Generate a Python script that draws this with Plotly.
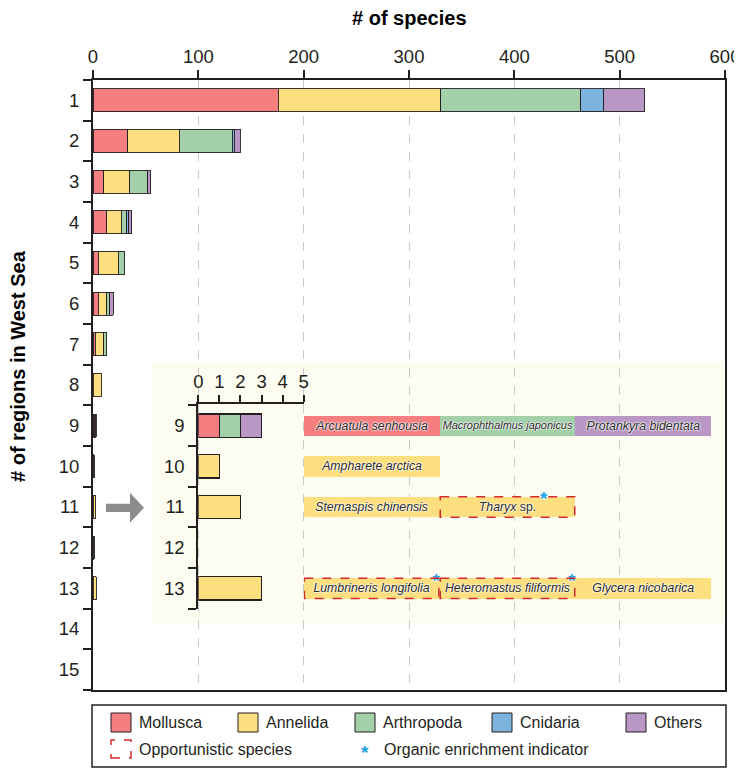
import plotly.graph_objects as go

# ---------------- data ----------------
regions = list(range(1, 16))
mollusca   = [176, 33, 10, 13, 5, 5, 2, 0, 1, 0, 0, 0, 0, 0, 0]
annelida   = [154, 49, 25, 14, 19, 8, 8, 8, 0, 1, 2, 1, 3, 0, 0]
arthropoda = [133, 50, 17, 5, 6, 3, 3, 0, 1, 0, 0, 0, 0, 0, 0]
cnidaria   = [22, 2, 0, 2, 0, 0, 0, 0, 0, 0, 0, 0, 0, 0, 0]
others     = [39, 6, 3, 3, 0, 3, 0, 0, 1, 0, 0, 0, 0, 0, 0]

taxa = ["Mollusca", "Annelida", "Arthropoda", "Cnidaria", "Others"]
taxon_colors = ["#F47E80", "#FDDF80", "#A3CFA9", "#7DB4DE", "#B897C5"]

x_ticks = [0, 100, 200, 300, 400, 500, 600]
inset_regions = [9, 10, 11, 12, 13]
inset_ticks = [0, 1, 2, 3, 4, 5]

species_names = ["Arcuatula senhousia", "Macrophthalmus japonicus", "Protankyra bidentata",
                 "Ampharete arctica",
                 "Sternaspis chinensis", "Tharyx sp.",
                 "Lumbrineris longifolia", "Heteromastus filiformis", "Glycera nicobarica"]
species_region = [9, 9, 9, 10, 11, 11, 13, 13, 13]
species_taxon = ["Mollusca", "Arthropoda", "Others", "Annelida",
                 "Annelida", "Annelida", "Annelida", "Annelida", "Annelida"]
species_opportunistic = [False, False, False, False, False, True, True, True, False]
species_indicator = [False, False, False, False, False, True, True, True, False]

legend_extra = ["Opportunistic species", "Organic enrichment indicator"]

# ---------------- style ----------------
DARK = "#231F20"
GRID = "#C9C9C9"
RED = "#D52B2E"
BLUE = "#1FA3E3"
FONT = "Arial, 'Liberation Sans', Helvetica, sans-serif"
PAGE_OFF = 8                      # default body margin of the html page
W, H = 742 - PAGE_OFF, 768 - PAGE_OFF
# plot area in reference-picture pixels
L, R, T, B = 93, 725, 80, 690
XMAX = 600
YTOP, YBOT = 0.5, 15.5
LABEL_SIZE = 12.3
SLOT_PX = (587 - 200) / XMAX * (R - L) / 3   # pixel width of one species box


def px_x(p):
    return (p - L) / (R - L)


def px_y(p):
    return (B - p) / (B - T)


def ydom(v):
    return (YBOT - v) / (YBOT - YTOP)


color_of = dict(zip(taxa, taxon_colors))
fig = go.Figure()

# main stacked bars
for name, vals, col in zip(taxa, [mollusca, annelida, arthropoda, cnidaria, others], taxon_colors):
    fig.add_bar(x=[v if v else None for v in vals], y=regions, orientation="h",
                marker=dict(color=col, line=dict(color=DARK, width=0.9)),
                width=0.57, name=name, showlegend=False, hoverinfo="x+y+name")

# inset stacked bars (counts from species list)
for name, col in zip(taxa, taxon_colors):
    counts = [sum(1 for r, t in zip(species_region, species_taxon) if r == reg and t == name)
              for reg in inset_regions]
    fig.add_bar(x=[c if c else None for c in counts], y=inset_regions, orientation="h",
                xaxis="x2", yaxis="y2",
                marker=dict(color=col, line=dict(color=DARK, width=1.2)),
                width=0.57, name=name, showlegend=False)

# species label boxes
halo = "0px 0px 2px #fff, 0px 0px 2px #fff, 0px 0px 2px #fff"
slots = []
star_x, star_y = [], []
for i, (nm, reg, tx) in enumerate(zip(species_names, species_region, species_taxon)):
    slot = sum(1 for r in species_region[:i] if r == reg)
    slots.append(slot)
    if nm.endswith(" sp."):
        label = "<i>" + nm[:-4] + "</i> sp."
    else:
        label = "<i>" + nm + "</i>"
    if species_indicator[i]:
        half_text = 0.5 * len(nm) * 0.5 * LABEL_SIZE / SLOT_PX
        star_x.append(slot + min(0.5 + half_text + 0.04, 0.975))
        star_y.append(reg - 0.16)
    fig.add_bar(x=[1], y=[reg], orientation="h", xaxis="x3", yaxis="y",
                marker=dict(color=color_of[tx], line=dict(width=0)),
                width=0.5, text=[label], textposition="inside", constraintext="inside",
                insidetextanchor="middle", textangle=0, cliponaxis=False,
                textfont=dict(family=FONT, size=LABEL_SIZE, color="#2B2B2B", shadow=halo),
                name=nm, showlegend=False, hoverinfo="name")

# organic enrichment indicator asterisks
fig.add_scatter(x=star_x, y=star_y, xaxis="x3", yaxis="y", mode="text",
                text=["<b>*</b>"] * len(star_x), textposition="middle center",
                textfont=dict(family=FONT, size=19, color=BLUE, shadow=halo),
                showlegend=False, hoverinfo="skip", cliponaxis=False)

shapes = []
# inset background
shapes.append(dict(type="rect", xref="x", yref="y", x0=57, x1=XMAX, y0=7.43, y1=13.85,
                   fillcolor="#FDFCF0", line=dict(width=0), layer="below"))
# opportunistic dashed boxes
for i, reg in enumerate(species_region):
    if species_opportunistic[i]:
        shapes.append(dict(type="rect", xref="x3", yref="y", x0=slots[i] + 0.005, x1=slots[i] + 0.995,
                           y0=reg - 0.25, y1=reg + 0.25,
                           line=dict(color=RED, width=1.5, dash="dash"), fillcolor="rgba(0,0,0,0)"))
# gray arrow
ax0, axh, axt = 12.3, 35.1, 48.4
yc = 11.02
path = "M {a},{s1} L {h},{s1} L {h},{h1} L {t},{c} L {h},{h2} L {h},{s2} L {a},{s2} Z".format(
    a=ax0, h=axh, t=axt, c=yc, s1=yc - 0.1, s2=yc + 0.1, h1=yc - 0.37, h2=yc + 0.37)
shapes.append(dict(type="path", xref="x", yref="y", path=path, fillcolor="#8C8C8C",
                   line=dict(width=0)))

# legend (manual)
annotations = []
shapes.append(dict(type="rect", xref="paper", yref="paper", x0=px_x(92), x1=px_x(726),
                   y0=px_y(767), y1=px_y(705), line=dict(color=DARK, width=1.5),
                   fillcolor="rgba(0,0,0,0)"))
sw_left = [111, 238, 355, 492, 626]
for lx, name, col in zip(sw_left, taxa, taxon_colors):
    shapes.append(dict(type="rect", xref="paper", yref="paper", x0=px_x(lx), x1=px_x(lx + 20),
                       y0=px_y(732), y1=px_y(713), fillcolor=col, line=dict(color=DARK, width=1)))
    annotations.append(dict(xref="paper", yref="paper", x=px_x(lx + 26), y=px_y(722.5), text=name,
                            showarrow=False, xanchor="left", yanchor="middle",
                            font=dict(family=FONT, size=16, color=DARK)))
shapes.append(dict(type="rect", xref="paper", yref="paper", x0=px_x(111), x1=px_x(131),
                   y0=px_y(758), y1=px_y(740), line=dict(color=RED, width=1.5, dash="dash"),
                   fillcolor="rgba(0,0,0,0)"))
annotations.append(dict(xref="paper", yref="paper", x=px_x(137), y=px_y(749), text=legend_extra[0],
                        showarrow=False, xanchor="left", yanchor="middle",
                        font=dict(family=FONT, size=16, color=DARK)))
annotations.append(dict(xref="paper", yref="paper", x=px_x(365), y=px_y(752), text="<b>*</b>",
                        showarrow=False, xanchor="center", yanchor="middle",
                        font=dict(family=FONT, size=19, color=BLUE)))
annotations.append(dict(xref="paper", yref="paper", x=px_x(382), y=px_y(749), text=legend_extra[1],
                        showarrow=False, xanchor="left", yanchor="middle",
                        font=dict(family=FONT, size=16, color=DARK)))

# axis titles
annotations.append(dict(xref="paper", yref="paper", x=px_x(409), y=px_y(18),
                        text="<b># of species</b>", showarrow=False, xanchor="center",
                        yanchor="middle", font=dict(family=FONT, size=20, color="#000")))
annotations.append(dict(xref="paper", yref="paper", x=px_x(18), y=px_y(366),
                        text="<b># of regions in West Sea</b>", showarrow=False, textangle=-90,
                        xanchor="center", yanchor="middle", font=dict(family=FONT, size=20, color="#000")))

axis_common = dict(showline=True, linecolor=DARK, linewidth=2, zeroline=False,
                   tickfont=dict(family=FONT, size=18.5, color=DARK))

fig.update_layout(
    width=W, height=H,
    margin=dict(l=L - PAGE_OFF, r=W - (R - PAGE_OFF), t=T - PAGE_OFF, b=H - (B - PAGE_OFF),
                autoexpand=False),
    paper_bgcolor="white", plot_bgcolor="rgba(0,0,0,0)",
    barmode="stack", showlegend=False,
    font=dict(family=FONT, color=DARK),
    xaxis=dict(domain=[0, 1], range=[0, XMAX], side="top", anchor="y",
               tickmode="array", tickvals=x_ticks, ticks="outside", ticklen=8, tickwidth=2,
               tickcolor=DARK, mirror=True, showgrid=True, gridcolor=GRID, griddash="dash",
               gridwidth=1, **axis_common),
    yaxis=dict(domain=[0, 1], range=[YBOT, YTOP], anchor="x",
               tickmode="array", tickvals=regions, ticktext=[str(r) for r in regions],
               ticks="outside", ticklen=8, tickcolor="rgba(0,0,0,0)",
               minor=dict(tick0=0.5, dtick=1, ticks="outside", ticklen=8, tickwidth=2,
                          tickcolor=DARK, showgrid=False),
               mirror=True, showgrid=False, **axis_common),
    xaxis2=dict(domain=[100 / XMAX, 200 / XMAX], range=[0, 5], side="top", anchor="y2",
                tickmode="array", tickvals=inset_ticks, ticks="outside", ticklen=7, tickwidth=2,
                tickcolor=DARK, showgrid=False, **axis_common),
    yaxis2=dict(domain=[ydom(13.5), ydom(8.47)], range=[13.5, 8.47], anchor="x2",
                tickmode="array", tickvals=inset_regions, ticktext=[str(r) for r in inset_regions],
                ticks="outside", ticklen=8, tickcolor="rgba(0,0,0,0)",
                minor=dict(tick0=0.5, dtick=1, ticks="outside", ticklen=8, tickwidth=2,
                           tickcolor=DARK, showgrid=False),
                showgrid=False, **axis_common),
    xaxis3=dict(domain=[200 / XMAX, 587 / XMAX], range=[0, 3], anchor="y", visible=False,
                showgrid=False),
    shapes=shapes,
    annotations=annotations,
)

fig.write_html("out.html")
